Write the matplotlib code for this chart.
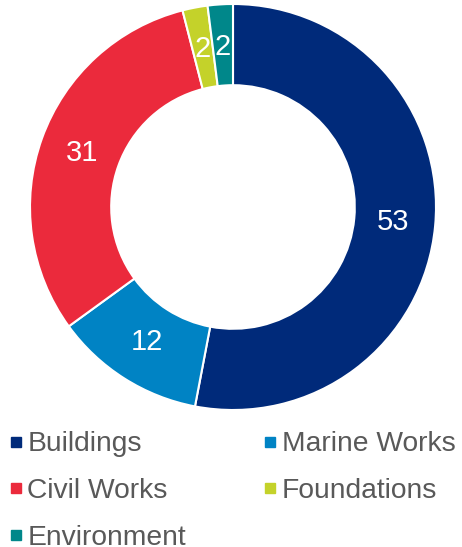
import matplotlib
matplotlib.use("Agg")
import matplotlib.pyplot as plt
from matplotlib.lines import Line2D

categories = ["Buildings", "Marine Works", "Civil Works", "Foundations", "Environment"]
values = [53, 12, 31, 2, 2]
colors = ["#002A7A", "#0083C4", "#EB2A3C", "#C4D22A", "#00878A"]

plt.rcParams['font.family'] = ['Liberation Sans', 'DejaVu Sans']

W, H = 462, 547
fig = plt.figure(figsize=(W / 100, H / 100), dpi=100)
cx, cy, r = 233, 547 - 207, 203
ax = fig.add_axes([(cx - r) / W, (cy - r) / H, 2 * r / W, 2 * r / H])

wedges, texts = ax.pie(values, colors=colors, startangle=90, counterclock=False,
                       radius=1.0, wedgeprops=dict(width=0.4, edgecolor="white", linewidth=1.5),
                       labels=[str(v) for v in values], labeldistance=0.79,
                       textprops=dict(color="white", fontsize=21, ha="center", va="center"))
for t in texts:
    t.set_ha("center")
    t.set_va("center")
ax.set_xlim(-1, 1)
ax.set_ylim(-1, 1)
ax.set_aspect("equal")
ax.axis("off")

order = [0, 2, 4, 1, 3]
handles = [Line2D([], [], marker="s", linestyle="none", markersize=7,
                  markerfacecolor=colors[i], markeredgecolor=colors[i]) for i in order]
labels = [categories[i] for i in order]
leg = fig.legend(handles, labels, ncol=2, loc="upper left", bbox_to_anchor=(0.0, 1 - 423 / H),
                 frameon=False, fontsize=20.3, handlelength=0.55, handletextpad=0.12,
                 columnspacing=2.72, labelspacing=0.74, borderaxespad=0, borderpad=0.3)
for t in leg.get_texts():
    t.set_color("#595959")

fig.savefig("out.png", dpi=100)
